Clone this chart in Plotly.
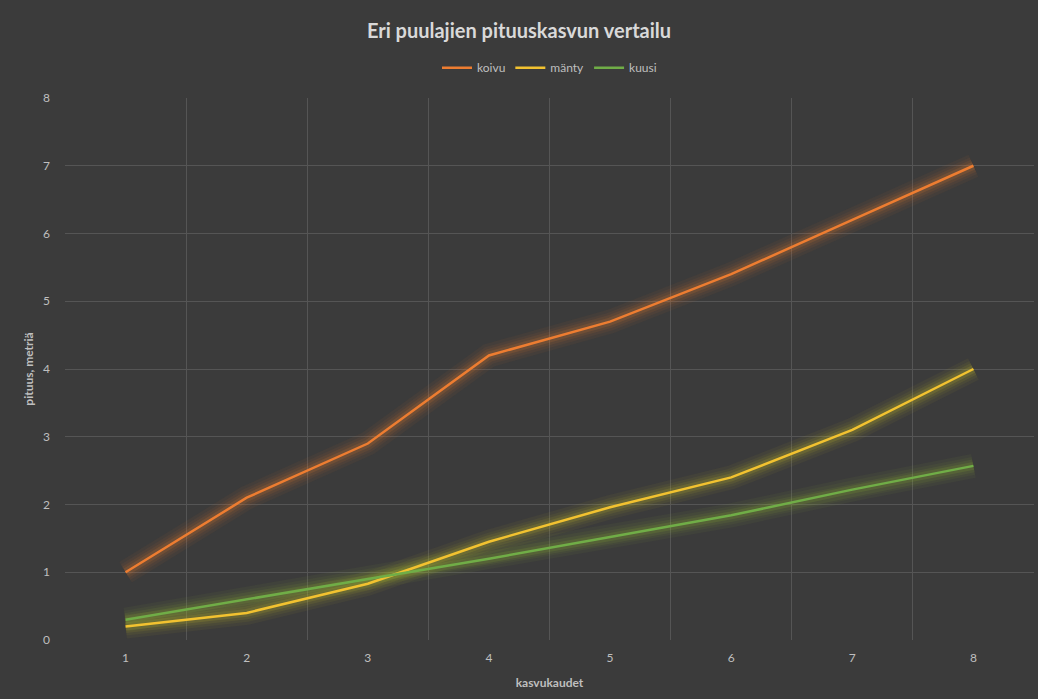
import plotly.graph_objects as go

seasons = [1, 2, 3, 4, 5, 6, 7, 8]
koivu = [1.0, 2.1, 2.9, 4.2, 4.7, 5.4, 6.2, 7.0]
manty = [0.2, 0.4, 0.83, 1.45, 1.96, 2.4, 3.1, 4.0]
kuusi = [0.3, 0.6, 0.89, 1.2, 1.52, 1.84, 2.22, 2.57]

series = [
    ("koivu", koivu, "#ED7D31", "rgba(237,125,49,{a})"),
    ("mänty", manty, "#F2C230", "rgba(210,200,40,{a})"),
    ("kuusi", kuusi, "#70AD47", "rgba(150,190,50,{a})"),
]

fig = go.Figure()
# glow layers
for name, vals, col, glow in series:
    for w, a in [(24, 0.05), (18, 0.06), (13, 0.09), (8, 0.14)]:
        fig.add_trace(go.Scatter(x=seasons, y=vals, mode="lines",
                                 line=dict(color=glow.format(a=a), width=w),
                                 showlegend=False, hoverinfo="skip"))
for name, vals, col, glow in series:
    fig.add_trace(go.Scatter(x=seasons, y=vals, mode="lines", name=name,
                             line=dict(color=col, width=2.5)))

font_fam = "Lato, 'Open Sans', sans-serif"
fig.update_layout(
    width=1038, height=699,
    paper_bgcolor="#3B3B3B", plot_bgcolor="#3B3B3B",
    margin=dict(l=65, r=4, t=98, b=59),
    font=dict(family=font_fam, color="#BFBFBF", size=12),
    title=dict(text="<b>Eri puulajien pituuskasvun vertailu</b>", x=0.5, xanchor="center",
               y=0.955, yanchor="middle", font=dict(size=20, color="#D9D9D9")),
    legend=dict(orientation="h", x=0.5, xanchor="center", y=1.056, yanchor="middle",
                font=dict(size=12, color="#BFBFBF"), itemwidth=30,
                bgcolor="rgba(0,0,0,0)"),
    showlegend=True,
)
fig.update_xaxes(range=[0.5, 8.5], tickvals=seasons, ticktext=[str(s) for s in seasons],
                 showgrid=False, zeroline=False, showline=False,
                 tickfont=dict(size=12, color="#BFBFBF"), ticks="", ticklabelstandoff=9,
                 minor=dict(tickvals=[0.5 + i for i in range(9)], showgrid=True,
                            gridcolor="#555555", gridwidth=1),
                 title=dict(text="<b>kasvukaudet</b>", font=dict(size=12, color="#BFBFBF"), standoff=14))
fig.update_yaxes(range=[0, 8], dtick=1, showgrid=True, gridcolor="#555555", gridwidth=1,
                 zeroline=False, showline=False, ticks="",
                 tickfont=dict(size=12, color="#BFBFBF"), ticklabelstandoff=14,
                 title=dict(text="<b>pituus, metriä</b>", font=dict(size=12, color="#BFBFBF"), standoff=6))

fig.write_html("out.html", config={"displayModeBar": False},
               post_script="document.body.style.margin='0';")
